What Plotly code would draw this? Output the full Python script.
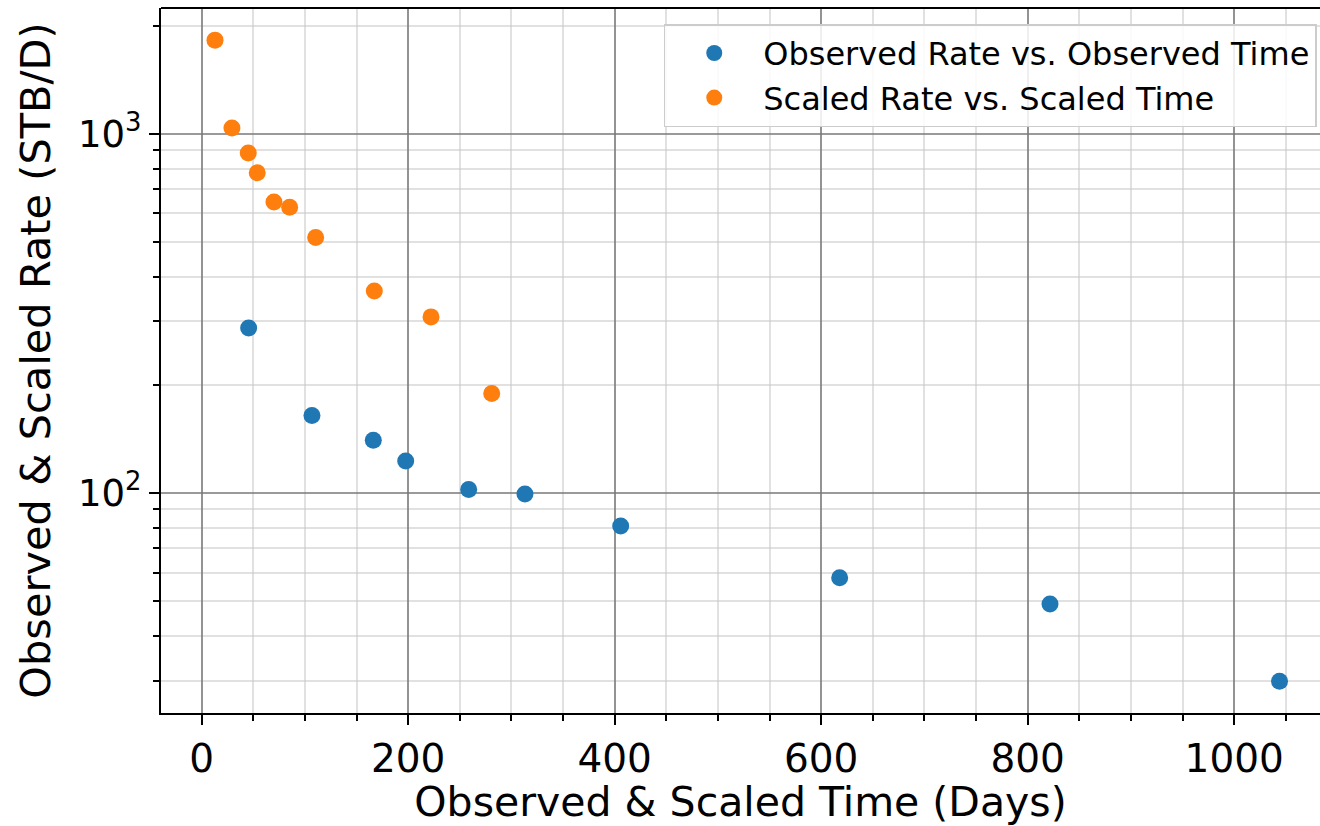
import plotly.graph_objects as go

# Observed production history
obs_time = [45.5, 106.8, 166.2, 197.6, 258.6, 313.1, 405.8, 617.9, 821.6, 1043.9]
obs_rate = [287.6, 164.1, 140.2, 122.7, 102.1, 99.2, 80.9, 58.0, 49.0, 29.9]

# Scaled production history
scaled_time = [12.9, 29.3, 45.1, 53.8, 70.0, 85.2, 110.4, 167.2, 222.1, 280.9]
scaled_rate = [1822, 1037, 884, 778, 645, 624, 514, 365, 309, 189]

x_ticks = [0, 200, 400, 600, 800, 1000]
y_ticks = [100, 1000]
y_tick_text = ["10<sup>2</sup>", "10<sup>3</sup>"]

FONT = "DejaVu Sans"
BLUE = "#1f77b4"
ORANGE = "#ff7f0e"
MAJOR_GRID = "rgba(120,120,120,0.75)"
MINOR_GRID = "rgba(200,200,200,0.55)"

fig = go.Figure()
fig.add_trace(go.Scatter(
    x=obs_time, y=obs_rate, mode="markers",
    name="Observed Rate vs. Observed Time",
    marker=dict(color=BLUE, size=17, line=dict(width=0)),
))
fig.add_trace(go.Scatter(
    x=scaled_time, y=scaled_rate, mode="markers",
    name="Scaled Rate vs. Scaled Time",
    marker=dict(color=ORANGE, size=17, line=dict(width=0)),
))

y_minor = [m * 10 ** e for e in (1, 2, 3) for m in range(2, 10)]

fig.update_layout(
    width=1320, height=826,
    margin=dict(l=161, r=0, t=8, b=113),
    paper_bgcolor="white", plot_bgcolor="white",
    font=dict(family=FONT, color="black"),
    showlegend=True,
    legend=dict(
        x=0.9972, y=0.977, xanchor="right", yanchor="top",
        font=dict(family=FONT, size=32, color="black"),
        bgcolor="rgba(255,255,255,0.85)",
        bordercolor="#cccccc", borderwidth=1.5,
        itemwidth=88,
    ),
    xaxis=dict(
        range=[-39.4, 1083.1],
        tickmode="array", tickvals=x_ticks,
        ticks="outside", ticklen=10, tickwidth=2, tickcolor="black",
        tickfont=dict(family=FONT, size=39, color="black"),
        showline=True, linecolor="black", linewidth=2,
        showgrid=True, gridcolor=MAJOR_GRID, gridwidth=2,
        zeroline=False,
        minor=dict(dtick=50, tick0=0, ticks="outside", ticklen=6, tickwidth=1.5,
                   tickcolor="black", showgrid=True, gridcolor=MINOR_GRID, gridwidth=1.5),
        title=dict(text="Observed & Scaled Time (Days)",
                   font=dict(family=FONT, size=41, color="black"), standoff=12),
    ),
    yaxis=dict(
        type="log",
        range=[1.387, 3.350],
        tickmode="array", tickvals=y_ticks, ticktext=y_tick_text,
        ticks="outside", ticklen=10, tickwidth=2, tickcolor="black",
        tickfont=dict(family=FONT, size=37, color="black"),
        showline=True, linecolor="black", linewidth=2,
        showgrid=True, gridcolor=MAJOR_GRID, gridwidth=2,
        zeroline=False,
        minor=dict(tickmode="array", tickvals=y_minor, ticks="outside", ticklen=6,
                   tickwidth=1.5, tickcolor="black", showgrid=True,
                   gridcolor=MINOR_GRID, gridwidth=1.5),
        title=dict(text="Observed & Scaled Rate (STB/D)",
                   font=dict(family=FONT, size=41.5, color="black"), standoff=14),
    ),
    shapes=[dict(type="line", xref="paper", yref="paper", x0=0, x1=1, y0=1, y1=1,
                 line=dict(color="black", width=2))],
)

fig.write_html("out.html")
